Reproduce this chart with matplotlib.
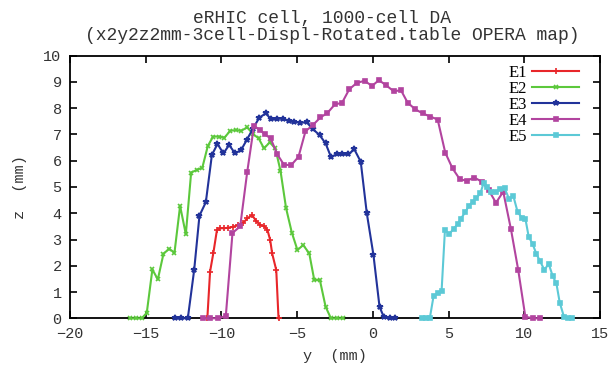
import matplotlib
matplotlib.use("Agg")
import matplotlib.pyplot as plt

# ---- data ----
e1_y = [-10.93, -10.75, -10.53, -10.3, -10.09, -9.82, -9.54, -9.21, -8.88, -8.55, -8.28, -7.97,
        -7.73, -7.44, -7.18, -6.96, -6.78, -6.65, -6.38, -6.23]
e1_z = [0, 1.78, 2.5, 3.35, 3.43, 3.43, 3.45, 3.49, 3.55, 3.64, 3.81, 3.93,
        3.72, 3.55, 3.51, 3.36, 2.98, 2.47, 1.84, 0]

e2_y = [-16.03, -15.64, -15.26, -14.93, -14.56, -14.2, -13.83, -13.46, -13.1, -12.73, -12.35, -12.0,
        -11.63, -11.26, -10.9, -10.55, -10.18, -9.8, -9.42, -9.05, -8.7, -8.3, -7.92, -7.54,
        -7.19, -6.81, -6.44, -6.1, -5.73, -5.35, -4.98, -4.6, -4.2, -3.87, -3.5, -3.12,
        -2.77, -2.37, -1.99]
e2_z = [0, 0, 0, 0.21, 1.86, 1.48, 2.45, 2.65, 2.5, 4.28, 3.2, 5.55,
        5.65, 5.74, 6.56, 6.92, 6.92, 6.88, 7.14, 7.17, 7.14, 7.27, 7.02, 6.85,
        6.47, 6.7, 6.47, 5.62, 4.19, 3.26, 2.6, 2.79, 2.47, 1.46, 1.46, 0.44,
        0, 0, 0]

e3_y = [-13.06, -12.66, -12.22, -11.8, -11.45, -11.03, -10.63, -10.26, -9.87, -9.49, -9.1, -8.7,
        -8.33, -7.93, -7.5, -7.08, -6.7, -6.33, -5.95, -5.55, -5.18, -4.8, -4.36, -3.96,
        -3.52, -3.12, -2.77, -2.39, -2.01, -1.64, -1.22, -0.8, -0.4, 0.04, 0.44, 0.73,
        1.1, 1.48]
e3_z = [0, 0, 0, 1.84, 3.91, 4.42, 6.22, 6.64, 6.28, 6.6, 6.28, 6.41,
        6.79, 7.21, 7.64, 7.8, 7.58, 7.6, 7.6, 7.51, 7.49, 7.45, 7.46, 7.2,
        6.98, 6.66, 6.15, 6.24, 6.24, 6.24, 6.43, 5.96, 4.0, 2.41, 0.44, 0.04,
        0, 0]

e4_y = [-11.19, -10.73, -10.2, -9.71, -9.27, -8.76, -8.3, -7.85, -7.46, -7.12, -6.75, -6.31,
        -5.86, -5.38, -4.91, -4.45, -3.96, -3.46, -3.0, -2.5, -2.04, -1.56, -1.05, -0.55,
        -0.05, 0.4, 0.88, 1.37, 1.86, 2.3, 2.8, 3.3, 3.8, 4.28, 4.78, 5.26,
        5.75, 6.21, 6.7, 7.2, 7.64, 8.13, 8.61, 9.12, 9.6, 10.07, 10.55, 11.06]
e4_z = [0, 0, 0, 0.09, 3.25, 3.5, 5.56, 7.33, 7.17, 7.0, 6.85, 6.24,
        5.84, 5.84, 6.15, 7.12, 7.36, 7.65, 7.82, 8.15, 8.2, 8.72, 8.97, 9.04,
        8.85, 9.07, 8.87, 8.65, 8.68, 8.21, 7.96, 7.8, 7.68, 7.57, 6.31, 5.71,
        5.29, 5.24, 5.36, 5.2, 4.89, 4.4, 4.82, 3.39, 1.84, 0.06, 0, 0]

e5_y = [3.24, 3.5, 3.76, 4.01, 4.28, 4.54, 4.76, 5.05, 5.33, 5.6, 5.82, 6.11,
        6.33, 6.59, 6.83, 7.1, 7.32, 7.54, 7.83, 8.14, 8.42, 8.7, 9.01, 9.27,
        9.56, 9.85, 10.07, 10.29, 10.55, 10.8, 11.02, 11.33, 11.61, 11.88, 12.12, 12.34,
        12.62, 12.88, 13.14]
e5_z = [0, 0, 0, 0.85, 0.95, 1.05, 3.36, 3.21, 3.41, 3.58, 3.8, 4.05,
        4.27, 4.44, 4.58, 4.76, 5.16, 5.01, 4.8, 4.82, 4.91, 4.95, 4.53, 4.67,
        4.05, 3.82, 3.8, 3.11, 2.83, 2.45, 2.2, 1.84, 2.08, 1.6, 1.33, 0.6,
        0.06, 0, 0]

labels = ["E1", "E2", "E3", "E4", "E5"]
x_ticks = [-20, -15, -10, -5, 0, 5, 10, 15]
y_ticks = [0, 1, 2, 3, 4, 5, 6, 7, 8, 9, 10]
title1 = "eRHIC cell, 1000-cell DA"
title2 = "(x2y2z2mm-3cell-Displ-Rotated.table OPERA map)"

# ---- style ----
W, H = 612, 371
mono = "Liberation Mono"
serif = "Liberation Serif"
txt = "#333333"
colors = ["#e8262a", "#5cc83c", "#22339a", "#b2449f", "#5cc9d6"]
markers = ["+", "x", "*", "s", "s"]
msizes = [4, 3.5, 4, 3.5, 3]

fig = plt.figure(figsize=(W / 100, H / 100), dpi=100)
ax = fig.add_axes([70 / W, 1 - 318.3 / H, 530 / W, (318.3 - 55.7) / H])

series = [(e1_y, e1_z), (e2_y, e2_z), (e3_y, e3_z), (e4_y, e4_z), (e5_y, e5_z)]
for (yy, zz), c, m, ms, lab in zip(series, colors, markers, msizes, labels):
    ax.plot(yy, zz, color=c, lw=1.5, marker=m, ms=ms, mew=1.2, label=lab, clip_on=False, zorder=3)

ax.set_xlim(-20, 15)
ax.set_ylim(0, 10)
ax.set_xticks(x_ticks)
ax.set_yticks(y_ticks)
ax.tick_params(direction="in", top=True, right=True, length=5, width=1.2, labelsize=11, pad=6,
               labelcolor=txt)
for lab in ax.get_xticklabels() + ax.get_yticklabels():
    lab.set_fontfamily(mono)
for s in ax.spines.values():
    s.set_linewidth(1.3)

ax.set_xlabel("y  (mm)", fontfamily=mono, fontsize=11, color=txt, labelpad=6)
ax.set_ylabel("z  (mm)", fontfamily=mono, fontsize=11, color=txt, labelpad=12)

fig.text(322 / W, 1 - 18 / H, title1, fontfamily=mono, fontsize=13, ha="center", va="center", color=txt)
fig.text(332 / W, 1 - 35.5 / H, title2, fontfamily=mono, fontsize=13, ha="center", va="center", color=txt)

leg = fig.legend(*ax.get_legend_handles_labels(), loc="upper right",
                 bbox_to_anchor=(579 / W, 1 - 65 / H), bbox_transform=fig.transFigure,
                 frameon=False, markerfirst=False,
                 prop={"family": serif, "size": 12}, handlelength=2.8, handletextpad=0.3,
                 labelspacing=0.0, borderaxespad=0.0, borderpad=0.0)

fig.savefig("out.png", dpi=100)
